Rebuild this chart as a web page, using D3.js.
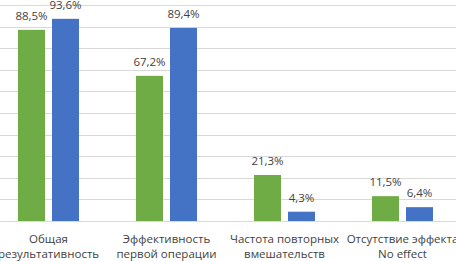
<!DOCTYPE html>
<html>
<head>
<meta charset="utf-8">
<script src="https://cdn.jsdelivr.net/npm/d3@7"></script>
<style>
  body { margin: 0; background: #fff; }
  svg { display: block; font-family: "Open Sans", sans-serif; }
</style>
</head>
<body>
<div id="chart"></div>
<script>
var categories = [
  ["Общая", "результативность"],
  ["Эффективность", "первой операции"],
  ["Частота повторных", "вмешательств"],
  ["Отсутствие эффекта", "No effect"]
];
var seriesNames = ["green", "blue"];
var greenValues = [88.5, 67.2, 21.3, 11.5];
var blueValues = [93.6, 89.4, 4.3, 6.4];
var yTicks = [0, 10, 20, 30, 40, 50, 60, 70, 80, 90, 100];

var width = 456,
    height = 261;

var colors = { green: "#6fac46", blue: "#4472c4" };

var data = categories.map(function(c, i) {
  return { key: i, lines: c, values: [
    { series: "green", value: greenValues[i] },
    { series: "blue", value: blueValues[i] }
  ]};
});

var x = d3.scaleBand()
  .domain(d3.range(categories.length))
  .range([-10.5, 461.5])
  .padding(0);

var xInner = d3.scaleBand()
  .domain(seriesNames)
  .range([-30.5, 30.5])
  .paddingInner(0.206);

var y = d3.scaleLinear()
  .domain([0, 100])
  .range([221, 5]);

var svg = d3.select("#chart").append("svg")
  .attr("width", width)
  .attr("height", height);

// gridlines
svg.append("g")
  .selectAll("line")
  .data(yTicks)
  .enter().append("line")
    .attr("x1", 0)
    .attr("x2", width)
    .attr("y1", function(d) { return Math.round(y(d)) + 0.5; })
    .attr("y2", function(d) { return Math.round(y(d)) + 0.5; })
    .style("stroke", "#d9d9d9")
    .style("stroke-width", 1);

var group = svg.selectAll(".group")
  .data(data)
  .enter().append("g")
    .attr("class", "group")
    .attr("transform", function(d) { return "translate(" + (x(d.key) + x.bandwidth() / 2) + ",0)"; });

group.selectAll("rect")
  .data(function(d) { return d.values; })
  .enter().append("rect")
    .attr("x", function(d) { return xInner(d.series); })
    .attr("width", xInner.bandwidth())
    .attr("y", function(d) { return y(d.value); })
    .attr("height", function(d) { return y(0) - y(d.value); })
    .style("fill", function(d) { return colors[d.series]; });

group.selectAll(".val")
  .data(function(d) { return d.values; })
  .enter().append("text")
    .attr("class", "val")
    .attr("x", function(d) { return xInner(d.series) + xInner.bandwidth() / 2; })
    .attr("y", function(d) { return y(d.value) - 10; })
    .attr("text-anchor", "middle")
    .style("font-size", "11.5px")
    .style("fill", "#3f3f3f")
    .text(function(d) { return d.value.toFixed(1).replace(".", ",") + "%"; });

group.selectAll(".cat")
  .data(function(d) { return d.lines; })
  .enter().append("text")
    .attr("class", "cat")
    .attr("x", 0)
    .attr("y", function(d, i) { return 243 + i * 15; })
    .attr("text-anchor", "middle")
    .style("font-size", "11.5px")
    .style("fill", "#3f3f3f")
    .text(function(d) { return d; });
</script>
</body>
</html>
